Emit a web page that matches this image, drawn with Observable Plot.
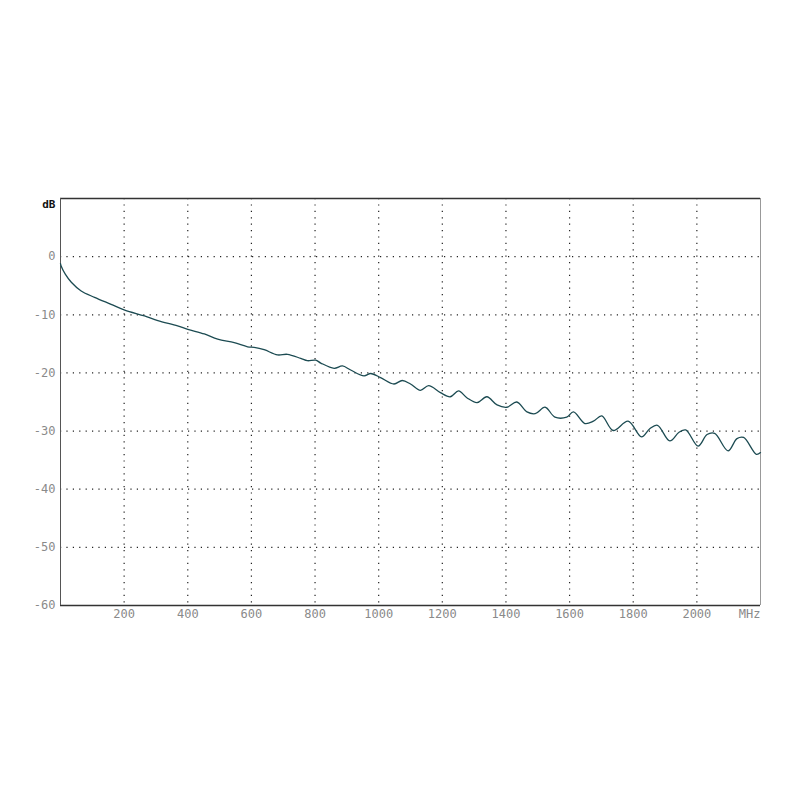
<!DOCTYPE html>
<html>
<head>
<meta charset="utf-8">
<script src="https://cdn.jsdelivr.net/npm/d3@7"></script>
<script src="https://cdn.jsdelivr.net/npm/@observablehq/plot@0.6"></script>
<style>
  html, body { margin: 0; padding: 0; background: #fff; }
</style>
</head>
<body>
<div id="chart"></div>
<script>
const freqMHz = [0, 2, 15, 34, 65, 107, 159, 202, 264, 306, 368, 400, 452, 494, 546, 588, 609, 640, 682, 713, 755, 776, 802, 818, 860, 886, 912, 954, 975, 1006, 1048, 1074, 1100, 1131, 1157, 1194, 1225, 1251, 1278, 1309, 1340, 1372, 1403, 1434, 1466, 1492, 1523, 1554, 1591, 1612, 1648, 1675, 1701, 1737, 1784, 1826, 1852, 1876, 1915, 1944, 1965, 2004, 2032, 2056, 2098, 2126, 2147, 2187, 2200];
const levelDb = [-1.2, -1.6, -3.0, -4.4, -5.9, -7.0, -8.2, -9.2, -10.2, -11.0, -11.9, -12.5, -13.3, -14.2, -14.8, -15.5, -15.6, -16.0, -16.9, -16.8, -17.5, -17.9, -17.8, -18.3, -19.2, -18.8, -19.5, -20.5, -20.1, -20.8, -21.9, -21.3, -21.9, -23.0, -22.2, -23.4, -24.1, -23.1, -24.3, -25.1, -24.1, -25.5, -25.9, -25.0, -26.7, -27.0, -25.9, -27.6, -27.6, -26.7, -28.7, -28.3, -27.4, -29.9, -28.3, -31.0, -29.6, -29.0, -31.7, -30.2, -29.8, -32.6, -30.6, -30.4, -33.4, -31.3, -31.1, -34.0, -33.7];
const xTicks = [200, 400, 600, 800, 1000, 1200, 1400, 1600, 1800, 2000];
const yTicks = [0, -10, -20, -30, -40, -50, -60];
const yGrid = [0, -10, -20, -30, -40, -50];
const xUnit = "MHz";
const yUnit = "dB";

const data = freqMHz.map((f, i) => ({f, db: levelDb[i]}));
const font = "'DejaVu Sans Mono', 'Liberation Mono', monospace";

const chart = Plot.plot({
  width: 800,
  height: 800,
  marginLeft: 60,
  marginRight: 40,
  marginTop: 198,
  marginBottom: 195,
  style: {fontFamily: font, fontSize: "11px", background: "#fff"},
  x: {domain: [0, 2200], axis: null},
  y: {domain: [-60, 10], axis: null},
  marks: [
    Plot.ruleX(xTicks, {stroke: "#222", strokeWidth: 1.2, strokeDasharray: "1.2,5.2", strokeOpacity: 1}),
    Plot.ruleY(yGrid, {stroke: "#222", strokeWidth: 1.2, strokeDasharray: "1.2,5.2", strokeOpacity: 1}),
    Plot.ruleX([2200], {stroke: "#999", strokeWidth: 1}),
    Plot.ruleY([10], {stroke: "#333", strokeWidth: 1.3}),
    Plot.ruleY([-60], {stroke: "#333", strokeWidth: 1.3}),
    Plot.ruleX([0], {stroke: "#555", strokeWidth: 1}),
    Plot.line(data, {x: "f", y: "db", stroke: "#1c4b52", strokeWidth: 1.3, curve: "catmull-rom"}),
    Plot.text(yTicks, {x: 0, y: d => d, text: d => String(d), textAnchor: "end", dx: -5, fill: "#8a8a8a", fontSize: 12, fontFamily: font}),
    Plot.text(xTicks, {x: d => d, y: -60, text: d => String(d), dy: 9, fill: "#8a8a8a", fontSize: 12, fontFamily: font}),
    Plot.text([xUnit], {x: 2200, y: -60, text: d => d, textAnchor: "end", dy: 9, fill: "#8a8a8a", fontSize: 12, fontFamily: font}),
    Plot.text([yUnit], {x: 0, y: 10, text: d => d, textAnchor: "end", dx: -5, dy: 6, fill: "#111", fontWeight: "bold", fontSize: 11, fontFamily: font})
  ]
});
document.getElementById("chart").appendChild(chart);
</script>
</body>
</html>
